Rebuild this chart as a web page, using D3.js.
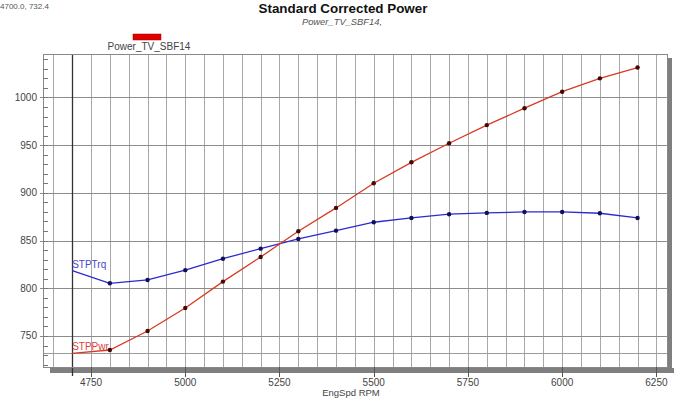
<!DOCTYPE html>
<html>
<head>
<meta charset="utf-8">
<script src="https://cdn.jsdelivr.net/npm/d3@7"></script>
<style>
  body { margin: 0; background: #fff; }
  svg { display: block; font-family: "Liberation Sans", Arial, sans-serif; }
  .grid line { stroke: #a8a8a8; shape-rendering: crispEdges; }
  .hgrid line { stroke: #8c8c8c; shape-rendering: crispEdges; }
  .tick-label { font-size: 10px; fill: #444; }
</style>
</head>
<body>
<div id="main-chart"></div>
<script>
// Dyno run data
var rpm = [4700, 4800, 4900, 5000, 5100, 5200, 5300, 5400, 5500, 5600, 5700, 5800, 5900, 6000, 6100, 6200];
var stpTrq = [818.4, 805.2, 808.7, 819.0, 831.0, 841.5, 851.7, 860.4, 869.2, 873.7, 877.6, 879.0, 880.0, 880.0, 878.6, 873.7];
var stpPwr = [731.8, 735.3, 755.2, 779.4, 807.0, 832.8, 859.7, 884.2, 910.0, 932.0, 952.0, 971.0, 988.7, 1006.0, 1020.0, 1031.3];
var xTicks = [4750, 5000, 5250, 5500, 5750, 6000, 6250];
var yTicks = [750, 800, 850, 900, 950, 1000];
var cursor = [4700.0, 732.4];

var width = 688, height = 398;
// plot frame (note: "top" is reserved on window, so use a margin object)
var frame = { left: 43, right: 667, top: 54, bottom: 367 };

var xScale = d3.scaleLinear().domain([4622.6, 6278.1]).range([frame.left, frame.right]);
var yScale = d3.scaleLinear().domain([717.5, 1045.5]).range([frame.bottom, frame.top]);

var svg = d3.select("#main-chart")
  .append("svg")
  .attr("width", width)
  .attr("height", height);

// Title block
svg.append("text")
  .attr("x", 343).attr("y", 13)
  .attr("text-anchor", "middle")
  .style("font-size", "13.4px").style("font-weight", "bold").style("fill", "#111")
  .text("Standard Corrected Power");
svg.append("text")
  .attr("x", 342).attr("y", 25)
  .attr("text-anchor", "middle")
  .style("font-size", "9.4px").style("font-style", "italic").style("fill", "#555")
  .text("Power_TV_SBF14,");

// cursor readout
svg.append("text")
  .attr("x", 0).attr("y", 9)
  .style("font-size", "8px").style("fill", "#555")
  .text(cursor[0].toFixed(1) + ", " + cursor[1].toFixed(1));

// legend
svg.append("rect")
  .attr("x", 133).attr("y", 34).attr("width", 28).attr("height", 6)
  .attr("fill", "#e00000").attr("stroke", "#a00000").attr("stroke-width", 0.5);
svg.append("text")
  .attr("x", 149).attr("y", 50)
  .attr("text-anchor", "middle")
  .style("font-size", "10px").style("fill", "#444")
  .text("Power_TV_SBF14");

// drop shadow of the plot frame
svg.append("rect")
  .attr("x", frame.left + 7).attr("y", frame.bottom + 1)
  .attr("width", frame.right - frame.left).attr("height", 5)
  .attr("fill", "#7f7f7f");
svg.append("rect")
  .attr("x", frame.right).attr("y", frame.top + 4)
  .attr("width", 5).attr("height", frame.bottom - frame.top + 2)
  .attr("fill", "#7f7f7f");
svg.append("rect")
  .attr("x", frame.left).attr("y", frame.top)
  .attr("width", frame.right - frame.left).attr("height", frame.bottom - frame.top)
  .attr("fill", "#fff");

// vertical grid every 50 rpm
var vGrid = d3.range(4650, 6251, 50);
svg.append("g").attr("class", "grid")
  .selectAll("line").data(vGrid).enter().append("line")
  .attr("x1", function(d) { return Math.round(xScale(d)) + 0.5; })
  .attr("x2", function(d) { return Math.round(xScale(d)) + 0.5; })
  .attr("y1", frame.top).attr("y2", frame.bottom);

// horizontal grid at the labelled values
svg.append("g").attr("class", "hgrid")
  .selectAll("line").data(yTicks).enter().append("line")
  .attr("x1", frame.left - 3).attr("x2", frame.right)
  .attr("y1", function(d) { return Math.round(yScale(d)) + 0.5; })
  .attr("y2", function(d) { return Math.round(yScale(d)) + 0.5; });

// cursor cross-hair
svg.append("line")
  .attr("x1", frame.left).attr("x2", frame.right)
  .attr("y1", Math.round(yScale(cursor[1])) + 0.5)
  .attr("y2", Math.round(yScale(cursor[1])) + 0.5)
  .attr("stroke", "#9a9a9a");
svg.append("line")
  .attr("x1", Math.round(xScale(cursor[0])) + 0.5)
  .attr("x2", Math.round(xScale(cursor[0])) + 0.5)
  .attr("y1", frame.top).attr("y2", frame.bottom + 9)
  .attr("stroke", "#333").attr("stroke-width", 1.3);

// frame
svg.append("rect")
  .attr("x", frame.left + 0.5).attr("y", frame.top + 0.5)
  .attr("width", frame.right - frame.left).attr("height", frame.bottom - frame.top)
  .attr("fill", "none").attr("stroke", "#888");

// left axis minor ticks (every 10)
var minor = d3.range(720, 1041, 10);
svg.append("g")
  .selectAll("line").data(minor).enter().append("line")
  .attr("x1", frame.left).attr("x2", frame.left + 5)
  .attr("y1", function(d) { return Math.round(yScale(d)) + 0.5; })
  .attr("y2", function(d) { return Math.round(yScale(d)) + 0.5; })
  .attr("stroke", "#777");

// y tick labels
svg.append("g")
  .selectAll("text").data(yTicks).enter().append("text")
  .attr("class", "tick-label")
  .attr("x", 37)
  .attr("y", function(d) { return yScale(d) + 3.5; })
  .attr("text-anchor", "end")
  .text(function(d) { return d; });

// x ticks and labels
svg.append("g")
  .selectAll("line").data(xTicks).enter().append("line")
  .attr("x1", function(d) { return Math.round(xScale(d)) + 0.5; })
  .attr("x2", function(d) { return Math.round(xScale(d)) + 0.5; })
  .attr("y1", frame.bottom).attr("y2", frame.bottom + 10)
  .attr("stroke", "#555");
svg.append("g")
  .selectAll("text").data(xTicks).enter().append("text")
  .attr("class", "tick-label")
  .attr("x", function(d) { return xScale(d); })
  .attr("y", 386)
  .attr("text-anchor", "middle")
  .text(function(d) { return d; });

svg.append("text")
  .attr("x", 351).attr("y", 396)
  .attr("text-anchor", "middle")
  .style("font-size", "9.5px").style("fill", "#444")
  .text("EngSpd  RPM");

// series
var lineGen = function(vals) {
  return d3.line()
    .x(function(d, i) { return xScale(rpm[i]); })
    .y(function(d) { return yScale(d); })(vals);
};

var series = [
  { name: "STPTrq", vals: stpTrq, color: "#2a2ad0", dot: "#10105a", labelColor: "#4848c8" },
  { name: "STPPwr", vals: stpPwr, color: "#d83a20", dot: "#400808", labelColor: "#e04040" }
];

series.forEach(function(s) {
  svg.append("path")
    .attr("d", lineGen(s.vals))
    .attr("fill", "none")
    .attr("stroke", s.color)
    .attr("stroke-width", 1.3);

  svg.append("g")
    .selectAll("circle").data(s.vals.slice(1)).enter().append("circle")
    .attr("cx", function(d, i) { return xScale(rpm[i + 1]); })
    .attr("cy", function(d) { return yScale(d); })
    .attr("r", 2.2)
    .attr("fill", s.dot);

  svg.append("text")
    .attr("x", xScale(rpm[0]))
    .attr("y", yScale(s.vals[0]) - 3)
    .style("font-size", "10px").style("fill", s.labelColor)
    .text(s.name);
});
</script>
</body>
</html>
